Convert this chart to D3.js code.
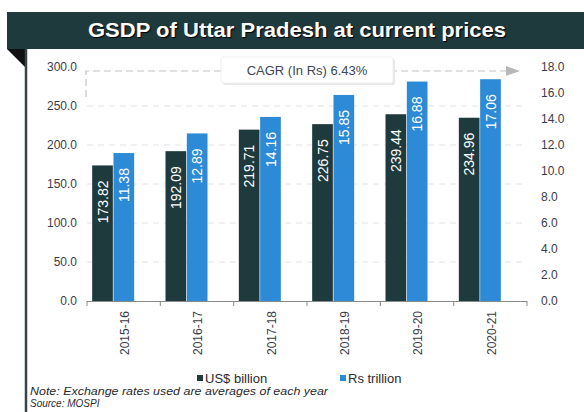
<!DOCTYPE html>
<html>
<head>
<meta charset="utf-8">
<script src="https://cdn.jsdelivr.net/npm/d3@7"></script>
<style>
  body { margin: 0; background: #fff; }
  svg { display: block; }
</style>
</head>
<body>
<div id="chart"></div>
<script>
(function(){
    var width = 584;
    var height = 412;

    // data
    var years = ["2015-16", "2016-17", "2017-18", "2018-19", "2019-20", "2020-21"];
    var usdBillion = [173.82, 192.09, 219.71, 226.75, 239.44, 234.96];
    var rsTrillion = [11.38, 12.89, 14.16, 15.85, 16.88, 17.06];
    var leftTicks = [0, 50, 100, 150, 200, 250, 300];
    var rightTicks = [0, 2, 4, 6, 8, 10, 12, 14, 16, 18];
    var seriesNames = ["US$ billion", "Rs trillion"];
    var cagrText = "CAGR (In Rs) 6.43%";

    var darkCol = "#1f3a3d";
    var blueCol = "#2d8ad6";
    var font = '"Liberation Sans Narrow", "Liberation Sans", Arial, sans-serif';

    var plot = { left: 87, right: 527, top: 67, bottom: 301 };

    var svg = d3.select("#chart")
        .append("svg")
            .attr("width", width)
            .attr("height", height)
            .style("font-family", font);

    // title banner
    svg.append("rect")
        .attr("x", 7).attr("y", 12)
        .attr("width", width - 7).attr("height", 37)
        .attr("fill", darkCol);
    svg.append("path")
        .attr("d", "M7,49 L26,49 L26,68 Z")
        .attr("fill", "#111");
    svg.append("line")
        .attr("x1", 26).attr("x2", 26)
        .attr("y1", 49).attr("y2", height)
        .attr("stroke", "#3a4446")
        .attr("stroke-width", 2.5);
    svg.append("text")
        .attr("x", 88).attr("y", 37)
        .attr("fill", "#fff")
        .attr("font-weight", "bold")
        .attr("font-size", "21px")
        .attr("textLength", 418)
        .attr("lengthAdjust", "spacingAndGlyphs")
        .style("text-shadow", "1px 1px 1px #000")
        .text("GSDP  of Uttar Pradesh at current prices");

    var xScale = d3.scaleBand()
        .domain(years)
        .range([plot.left, plot.right])
        .padding(0);

    var x1 = d3.scaleBand()
        .domain(seriesNames)
        .range([-31.5, 10.5])
        .paddingInner(0.03);

    var yLeft = d3.scaleLinear()
        .domain([0, 300])
        .range([plot.bottom, plot.top]);

    var yRight = d3.scaleLinear()
        .domain([0, 18])
        .range([plot.bottom, plot.top]);

    // faint dashed gridlines
    svg.selectAll(".grid")
        .data(leftTicks.slice(1, -1))
        .enter()
        .append("line")
        .attr("class", "grid")
        .attr("x1", plot.left)
        .attr("x2", plot.right)
        .attr("y1", function(d){ return yLeft(d); })
        .attr("y2", function(d){ return yLeft(d); })
        .attr("stroke", "#e2e2e2")
        .attr("stroke-dasharray", "6,5");

    // CAGR arrow
    svg.append("path")
        .attr("d", "M86,97 L86,71 L508,71")
        .attr("fill", "none")
        .attr("stroke", "#c4c4c4")
        .attr("stroke-width", 1.2)
        .attr("stroke-dasharray", "7,4");
    svg.append("path")
        .attr("d", "M506,66 L520,71 L506,76 Z")
        .attr("fill", "#b8b8b8");

    var cagr = svg.append("g");
    cagr.append("rect")
        .attr("x", 223).attr("y", 59)
        .attr("width", 172).attr("height", 26)
        .attr("rx", 2)
        .attr("fill", "#e8e8e8");
    cagr.append("rect")
        .attr("x", 221).attr("y", 57)
        .attr("width", 172).attr("height", 26)
        .attr("rx", 2)
        .attr("fill", "#fff")
        .attr("stroke", "#eee");
    cagr.append("text")
        .attr("x", 307).attr("y", 75)
        .attr("text-anchor", "middle")
        .attr("font-size", "13px")
        .attr("fill", "#3c4656")
        .text(cagrText);

    // bars
    var rows = years.map(function(y, i){
        return { year: y, vals: [
            { name: seriesNames[0], v: usdBillion[i], y: yLeft(usdBillion[i]), col: darkCol },
            { name: seriesNames[1], v: rsTrillion[i], y: yRight(rsTrillion[i]), col: blueCol }
        ]};
    });

    var groups = svg.selectAll(".year")
        .data(rows)
        .enter()
        .append("g")
        .attr("class", "year")
        .attr("transform", function(d){
            return "translate(" + (xScale(d.year) + xScale.bandwidth()/2) + ",0)";
        });

    groups.selectAll("rect")
        .data(function(d){ return d.vals; })
        .enter()
        .append("rect")
        .attr("x", function(d){ return x1(d.name); })
        .attr("width", x1.bandwidth())
        .attr("y", function(d){ return d.y; })
        .attr("height", function(d){ return plot.bottom - d.y; })
        .attr("fill", function(d){ return d.col; });

    groups.selectAll(".val")
        .data(function(d){ return d.vals; })
        .enter()
        .append("text")
        .attr("class", "val")
        .attr("transform", function(d){
            return "translate(" + (x1(d.name) + x1.bandwidth()/2) + "," + (d.y + 15) + ") rotate(-90)";
        })
        .attr("text-anchor", "end")
        .attr("dy", "0.36em")
        .attr("fill", "#fff")
        .attr("font-size", "14px")
        .text(function(d){ return d.v.toFixed(2); });

    // x axis
    svg.append("line")
        .attr("x1", plot.left).attr("x2", plot.right)
        .attr("y1", plot.bottom + 0.5).attr("y2", plot.bottom + 0.5)
        .attr("stroke", "#8a8a8a");
    svg.selectAll(".xtick")
        .data(years.concat([null]))
        .enter()
        .append("line")
        .attr("class", "xtick")
        .attr("x1", function(d){ return d ? xScale(d) : plot.right; })
        .attr("x2", function(d){ return d ? xScale(d) : plot.right; })
        .attr("y1", plot.bottom)
        .attr("y2", plot.bottom + 5)
        .attr("stroke", "#8a8a8a");
    svg.selectAll(".xlabel")
        .data(years)
        .enter()
        .append("text")
        .attr("class", "xlabel")
        .attr("transform", function(d){
            return "translate(" + (xScale(d) + xScale.bandwidth()/2 + 1) + "," + (plot.bottom + 10) + ") rotate(-90)";
        })
        .attr("text-anchor", "end")
        .attr("dy", "0.36em")
        .attr("font-size", "12px")
        .attr("fill", "#3c3c48")
        .text(function(d){ return d; });

    // left and right tick labels
    svg.selectAll(".ltick")
        .data(leftTicks)
        .enter()
        .append("text")
        .attr("class", "ltick")
        .attr("x", 77)
        .attr("y", function(d){ return yLeft(d); })
        .attr("dy", "0.35em")
        .attr("text-anchor", "end")
        .attr("font-size", "12px")
        .attr("fill", "#3c3c48")
        .text(function(d){ return d.toFixed(1); });

    svg.selectAll(".rtick")
        .data(rightTicks)
        .enter()
        .append("text")
        .attr("class", "rtick")
        .attr("x", 541)
        .attr("y", function(d){ return yRight(d); })
        .attr("dy", "0.35em")
        .attr("font-size", "12px")
        .attr("fill", "#3c3c48")
        .text(function(d){ return d.toFixed(1); });

    // legend
    var legend = svg.append("g")
        .attr("transform", "translate(0,378)");
    var legendX = [197, 340];
    seriesNames.forEach(function(name, i){
        legend.append("rect")
            .attr("x", legendX[i]).attr("y", -3)
            .attr("width", 6).attr("height", 6)
            .attr("fill", i == 0 ? darkCol : blueCol);
        legend.append("text")
            .attr("x", legendX[i] + 8)
            .attr("y", 0)
            .attr("dy", "0.35em")
            .attr("font-size", "13px")
            .attr("fill", "#2a2a30")
            .text(name);
    });

    // footnotes
    svg.append("text")
        .attr("x", 30).attr("y", 395)
        .attr("font-size", "10px")
        .attr("font-style", "italic")
        .attr("fill", "#2a2a30")
        .attr("textLength", 298)
        .attr("lengthAdjust", "spacingAndGlyphs")
        .text("Note: Exchange rates used are averages of each year");
    svg.append("text")
        .attr("x", 30).attr("y", 407)
        .attr("font-size", "10px")
        .attr("font-style", "italic")
        .attr("fill", "#2a2a30")
        .text("Source: MOSPI");
})();
</script>
</body>
</html>
